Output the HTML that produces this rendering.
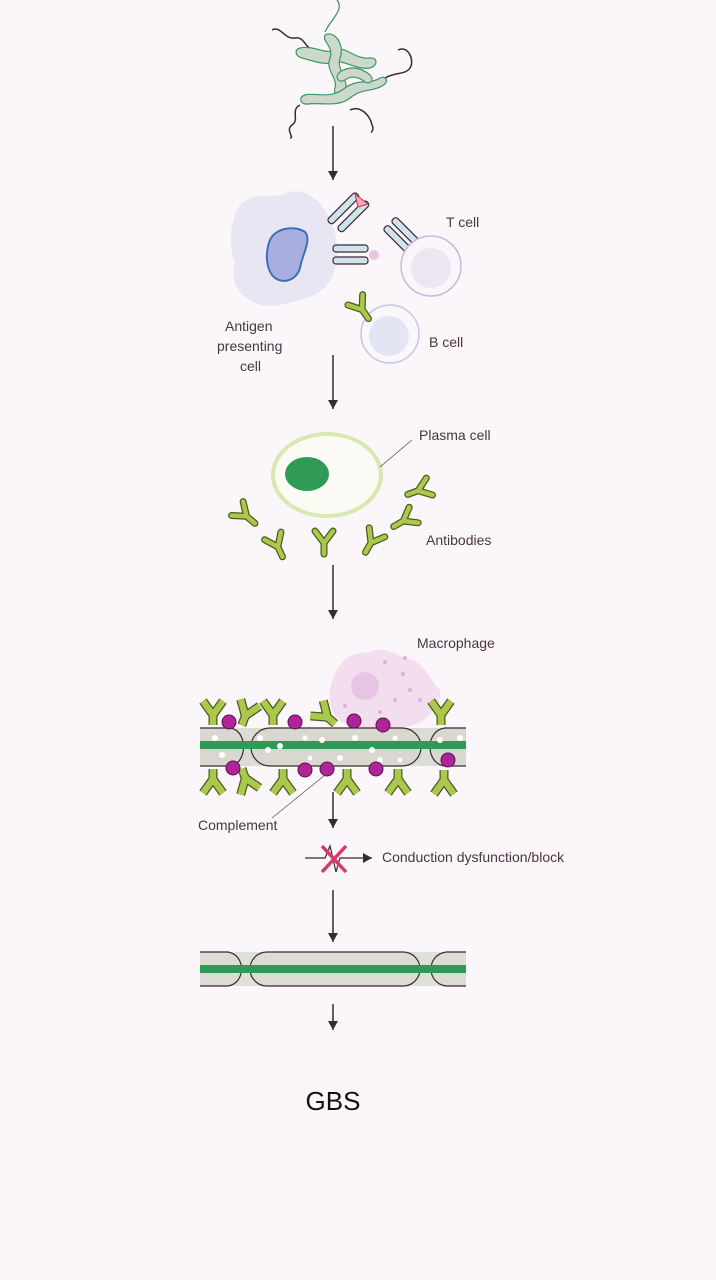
<!DOCTYPE html>
<html><head><meta charset="utf-8"><style>
html,body{margin:0;padding:0;background:#fbf6f9;}
svg{display:block}
text{font-family:"Liberation Sans",sans-serif;fill:#4a3540;font-size:14px}
</style></head><body>
<svg width="716" height="1280" viewBox="0 0 716 1280" xmlns="http://www.w3.org/2000/svg">
<defs>
<g id="ab">
<path d="M0,2 L0,13 M0,2 L-9,-10 M0,2 L9,-10" stroke="#4f5a1c" stroke-width="7" stroke-linecap="round" stroke-linejoin="round" fill="none"/>
<path d="M0,2 L0,13 M0,2 L-9,-10 M0,2 L9,-10" stroke="#a9c84c" stroke-width="4.5" stroke-linecap="round" stroke-linejoin="round" fill="none"/>
</g>
<g id="abb">
<path d="M0,2 L0,12 M0,2 L-10,-12 M0,2 L10,-12" stroke="#4f5a1c" stroke-width="9" stroke-linecap="butt" stroke-linejoin="miter" fill="none"/>
<path d="M0,2 L0,12 M0,2 L-10,-12 M0,2 L10,-12" stroke="#a9c84c" stroke-width="6.5" stroke-linecap="butt" stroke-linejoin="miter" fill="none"/>
</g>
<marker id="ah" markerWidth="10" markerHeight="10" refX="9" refY="5" orient="auto" markerUnits="userSpaceOnUse">
<path d="M0,0 L9,5 L0,10 Z" fill="#3a2a30"/>
</marker>
</defs>

<!-- bacteria -->
<g fill="none" stroke="#3a2a30" stroke-width="1.5">
<path d="M272,30 C280,25 285,40 295,38 C305,36 305,50 315,50"/>
<path d="M398,50 C408,45 415,60 410,68 C405,75 395,72 385,78"/>
<path d="M300,105 C290,110 300,120 292,125 C285,130 295,138 290,138"/>
<path d="M350,110 C360,105 370,115 372,125 C375,130 370,133 372,132"/>
</g>
<path d="M337,0 C345,10 330,20 325,32" stroke="#3a8a5a" stroke-width="1.2" fill="none"/>
<g fill="#cdd8cd" stroke="#3a9a60" stroke-width="1.2">
<path d="M300,48 C315,45 325,55 335,50 C345,45 355,60 370,58 C378,57 378,66 370,68 C355,70 345,60 335,62 C325,66 310,60 302,58 C295,56 294,50 300,48Z"/>
<path d="M325,35 C335,30 345,45 340,58 C336,70 350,80 345,92 C342,98 332,95 335,88 C338,78 325,70 330,58 C334,46 322,42 325,35Z"/>
<path d="M305,95 C315,92 330,100 345,88 C358,78 370,85 380,78 C386,75 390,82 382,86 C372,92 362,88 350,98 C338,108 318,102 308,104 C300,105 298,97 305,95Z"/>
<path d="M340,72 C350,65 362,68 370,75 C375,80 370,85 365,82 C358,76 350,76 345,80 C338,84 334,76 340,72Z"/>
</g>

<!-- arrows -->
<g stroke="#3a2a30" stroke-width="1.5" marker-end="url(#ah)">
<line x1="333" y1="126" x2="333" y2="180"/>
<line x1="333" y1="355" x2="333" y2="409"/>
<line x1="333" y1="565" x2="333" y2="619"/>
<line x1="333" y1="792" x2="333" y2="828"/>
<line x1="333" y1="890" x2="333" y2="942"/>
<line x1="333" y1="1004" x2="333" y2="1030"/>
</g>

<!-- APC -->
<path d="M240,205 C255,190 275,200 290,192 C305,188 320,200 328,215 C335,230 340,245 336,265 C332,285 320,295 300,300 C280,305 265,310 250,300 C235,292 230,275 235,262 C228,245 230,220 240,205Z" fill="#e9e6f3"/>
<path d="M270,240 C275,228 295,225 305,232 C312,240 302,255 300,268 C296,282 280,285 272,275 C265,265 266,250 270,240Z" fill="#a9aee0" stroke="#3a70b8" stroke-width="2"/>
<g fill="#cfe3ec" stroke="#3a2a30" stroke-width="1.2">
<rect x="323" y="205" width="40" height="7" rx="3" transform="rotate(-45 343 208)"/>
<rect x="333" y="213" width="40" height="7" rx="3" transform="rotate(-45 353 216)"/>
<rect x="333" y="245" width="35" height="7" rx="3"/>
<rect x="333" y="257" width="35" height="7" rx="3"/>
<rect x="380" y="237" width="38" height="7" rx="3" transform="rotate(45 399 240)"/>
<rect x="388" y="229" width="38" height="7" rx="3" transform="rotate(45 407 232)"/>
</g>
<path d="M355,194 L368,204 L358,207 Z" fill="#f2a8b8" stroke="#c03050" stroke-width="1"/>
<circle cx="374" cy="255" r="5" fill="#e8c8e0"/>
<circle cx="431" cy="266" r="30" fill="#faf5fa" stroke="#c8b8e0" stroke-width="1.5"/>
<circle cx="431" cy="268" r="20" fill="#ede5f2"/>
<circle cx="390" cy="334" r="29" fill="#faf7fb" stroke="#c8c4e4" stroke-width="1.5"/>
<circle cx="389" cy="336" r="20" fill="#e3e4f4"/>
<g transform="translate(361,308) rotate(-35)"><use href="#ab"/></g>
<text x="446" y="227">T cell</text>
<text x="429" y="347">B cell</text>
<text x="225" y="331">Antigen</text>
<text x="217" y="351">presenting</text>
<text x="240" y="371">cell</text>

<!-- plasma -->
<ellipse cx="327" cy="475" rx="54" ry="41" fill="#fbfaf4" stroke="#d8e8b0" stroke-width="4"/>
<ellipse cx="307" cy="474" rx="22" ry="17" fill="#2e9a55"/>
<line x1="380" y1="467" x2="412" y2="440" stroke="#555" stroke-width="0.8"/>
<text x="419" y="440">Plasma cell</text>
<text x="426" y="545">Antibodies</text>
<g transform="translate(245,515) rotate(-50)"><use href="#ab"/></g>
<g transform="translate(277,545) rotate(-25)"><use href="#ab"/></g>
<g transform="translate(324,541)"><use href="#ab"/></g>
<g transform="translate(372,541) rotate(30)"><use href="#ab"/></g>
<g transform="translate(405,520) rotate(60)"><use href="#ab"/></g>
<g transform="translate(420,490) rotate(70)"><use href="#ab"/></g>

<!-- macrophage -->
<path d="M340,665 C350,650 365,655 375,650 C390,648 400,658 412,660 C425,665 430,680 440,690 C442,705 432,715 420,722 C405,730 390,728 375,730 C360,732 345,728 335,715 C325,700 330,680 340,665Z" fill="#f3def0"/>
<circle cx="365" cy="686" r="14" fill="#e8c4e4"/>
<g fill="#e0b0d8"><circle cx="385" cy="662" r="2"/><circle cx="403" cy="674" r="2"/><circle cx="410" cy="690" r="2"/><circle cx="395" cy="700" r="2"/><circle cx="380" cy="712" r="2"/><circle cx="420" cy="700" r="2"/><circle cx="345" cy="706" r="2"/><circle cx="405" cy="658" r="2"/></g>
<text x="417" y="648">Macrophage</text>

<!-- damaged fiber -->
<rect x="200" y="728" width="266" height="38" fill="#dcdcd6"/>
<g fill="#d8d8d0" stroke="#3a2a30" stroke-width="1.2">
<path d="M200,728 L230,728 C248,730 248,764 230,766 L200,766"/>
<rect x="251" y="728" width="170" height="38" rx="19"/>
<path d="M466,728 L445,728 C425,730 425,764 445,766 L466,766"/>
</g>
<rect x="200" y="741" width="266" height="8" fill="#2e9a55"/>
<g fill="#fff"><circle cx="215" cy="738" r="3"/><circle cx="222" cy="755" r="3"/><circle cx="260" cy="738" r="3"/><circle cx="268" cy="750" r="3"/><circle cx="280" cy="746" r="3"/><circle cx="305" cy="738" r="2.5"/><circle cx="322" cy="740" r="3"/><circle cx="340" cy="758" r="3"/><circle cx="355" cy="738" r="3"/><circle cx="372" cy="750" r="3"/><circle cx="380" cy="760" r="3"/><circle cx="395" cy="738" r="2.5"/><circle cx="400" cy="760" r="2.5"/><circle cx="440" cy="740" r="3"/><circle cx="460" cy="738" r="3"/><circle cx="310" cy="758" r="2.5"/></g>
<g transform="translate(213,713)"><use href="#abb"/></g>
<g transform="translate(246,714) rotate(20)"><use href="#abb"/></g>
<g transform="translate(273,713)"><use href="#abb"/></g>
<g transform="translate(326,716) rotate(-50)"><use href="#abb"/></g>
<g transform="translate(441,713)"><use href="#abb"/></g>
<g transform="translate(213,781) rotate(180)"><use href="#abb"/></g>
<g transform="translate(246,780) rotate(160)"><use href="#abb"/></g>
<g transform="translate(283,781) rotate(180)"><use href="#abb"/></g>
<g transform="translate(347,781) rotate(180)"><use href="#abb"/></g>
<g transform="translate(398,781) rotate(180)"><use href="#abb"/></g>
<g transform="translate(444,782) rotate(180)"><use href="#abb"/></g>
<g fill="#b0249a" stroke="#5a1050" stroke-width="1">
<circle cx="229" cy="722" r="7"/><circle cx="295" cy="722" r="7"/><circle cx="354" cy="721" r="7"/><circle cx="383" cy="725" r="7"/>
<circle cx="233" cy="768" r="7"/><circle cx="305" cy="770" r="7"/><circle cx="327" cy="769" r="7"/><circle cx="376" cy="769" r="7"/><circle cx="448" cy="760" r="7"/>
</g>
<line x1="325" y1="775" x2="272" y2="818" stroke="#555" stroke-width="0.8"/>
<text x="198" y="830">Complement</text>

<!-- conduction -->
<path d="M305,858 L325,858 L330,846 L336,872 L340,858 L372,858" stroke="#3a2a30" stroke-width="1.2" fill="none" marker-end="url(#ah)"/>
<path d="M322,846 L346,872 M346,846 L322,872" stroke="#d83a66" stroke-width="3.5"/>
<text x="382" y="862">Conduction dysfunction/block</text>

<!-- bottom fiber -->
<rect x="200" y="952" width="266" height="34" fill="#e0e0da"/>
<g fill="#dcdcd6" stroke="#3a2a30" stroke-width="1.2">
<path d="M200,952 L228,952 C246,955 246,983 228,986 L200,986"/>
<rect x="250" y="952" width="170" height="34" rx="17"/>
<path d="M466,952 L446,952 C426,955 426,983 446,986 L466,986"/>
</g>
<rect x="200" y="965" width="266" height="8" fill="#2e9a55"/>

<text x="333" y="1110" text-anchor="middle" style="font-size:26px;fill:#111">GBS</text>
</svg>
</body></html>
